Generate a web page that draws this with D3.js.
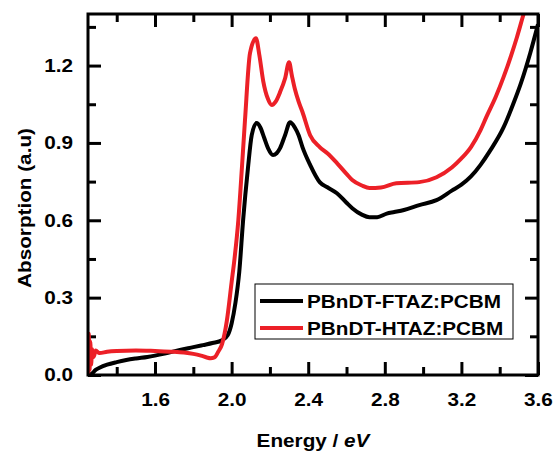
<!DOCTYPE html>
<html>
<head>
<meta charset="utf-8">
<script src="https://cdn.jsdelivr.net/npm/d3@7"></script>
<style>
  body { margin: 0; background: #fff; }
  text { font-family: "Liberation Sans", Arial, sans-serif; font-weight: bold; }
</style>
</head>
<body>
<script>
// PBnDT-FTAZ:PCBM (black)
var energyF = [1.255, 1.27, 1.29, 1.31, 1.35, 1.40, 1.45, 1.50, 1.56, 1.65, 1.73, 1.80, 1.85, 1.90, 1.95, 1.98, 2.00,
	2.02, 2.04, 2.06, 2.085, 2.105, 2.13, 2.15, 2.17, 2.19, 2.216, 2.235, 2.253, 2.279, 2.305, 2.33, 2.35,
	2.37, 2.41, 2.46, 2.50, 2.55, 2.60, 2.63, 2.68, 2.72, 2.76, 2.81, 2.85, 2.90, 2.98, 3.07, 3.15, 3.20,
	3.25, 3.30, 3.35, 3.42, 3.47, 3.51, 3.56, 3.60];
var absF = [0.0, 0.005, 0.02, 0.028, 0.04, 0.05, 0.058, 0.064, 0.07, 0.083, 0.097, 0.108, 0.116, 0.124, 0.135, 0.155, 0.20,
	0.28, 0.40, 0.60, 0.80, 0.93, 0.977, 0.96, 0.92, 0.88, 0.853, 0.86, 0.88, 0.93, 0.98, 0.96, 0.93,
	0.884, 0.815, 0.748, 0.728, 0.705, 0.668, 0.647, 0.622, 0.612, 0.612, 0.626, 0.632, 0.64, 0.659, 0.678, 0.715, 0.738,
	0.77, 0.815, 0.87, 0.96, 1.05, 1.13, 1.25, 1.36];

// PBnDT-HTAZ:PCBM (red)
var energyH = [1.251, 1.254, 1.258, 1.262, 1.266, 1.272, 1.28, 1.29, 1.31, 1.35, 1.40, 1.50, 1.60, 1.70, 1.75, 1.80,
	1.84, 1.87, 1.89, 1.91, 1.93, 1.95, 1.975, 2.00, 2.015, 2.035, 2.054, 2.07, 2.096, 2.127, 2.145, 2.165,
	2.19, 2.21, 2.23, 2.253, 2.279, 2.30, 2.315, 2.33, 2.35, 2.37, 2.41, 2.46, 2.50, 2.55, 2.60, 2.63, 2.68,
	2.72, 2.78, 2.86, 2.98, 3.07, 3.15, 3.20, 3.25, 3.30, 3.33, 3.38, 3.42, 3.46, 3.49, 3.525, 3.55];
var absH = [0.0, 0.16, 0.02, 0.13, 0.04, 0.10, 0.07, 0.095, 0.085, 0.09, 0.093, 0.095, 0.093, 0.09, 0.087, 0.082,
	0.075, 0.068, 0.065, 0.068, 0.09, 0.12, 0.21, 0.36, 0.45, 0.60, 0.806, 0.99, 1.248, 1.306, 1.24, 1.14,
	1.07, 1.047, 1.06, 1.097, 1.15, 1.213, 1.16, 1.11, 1.06, 1.02, 0.93, 0.884, 0.86, 0.822, 0.78, 0.756, 0.735,
	0.725, 0.727, 0.744, 0.748, 0.767, 0.805, 0.84, 0.884, 0.95, 1.0, 1.08, 1.155, 1.24, 1.31, 1.40, 1.46];

var xMajor = [1.6, 2.0, 2.4, 2.8, 3.2, 3.6];
var xMinor = [1.4, 1.8, 2.2, 2.6, 3.0, 3.4];
var yMajor = [0.0, 0.3, 0.6, 0.9, 1.2];
var yMinor = [0.15, 0.45, 0.75, 1.05, 1.35];

var seriesNames = ["PBnDT-FTAZ:PCBM", "PBnDT-HTAZ:PCBM"];
var seriesColors = ["#000000", "#ec2027"];

var margin = {top: 14, right: 16, bottom: 77, left: 88},
	width = 554 - margin.left - margin.right,
	height = 452 - margin.top - margin.bottom;

var x = d3.scaleLinear().domain([1.25, 3.6]).range([0, width]);
var y = d3.scaleLinear().domain([0, 1.4]).range([height, 0]);

var svg = d3.select("body").append("svg")
	.attr("width", 554)
	.attr("height", 452);

var main = svg.append("g")
	.attr("transform", "translate(" + margin.left + "," + margin.top + ")");

main.append("clipPath").attr("id", "plot-clip")
	.append("rect").attr("width", width).attr("height", height);

var fmt = d3.format(".1f");

function styleAxis(g) {
	g.select(".domain").remove();
	g.selectAll(".tick line").attr("stroke", "#000").attr("stroke-width", 3);
	g.selectAll(".tick text").attr("fill", "#000").style("font-size", "18px");
}

// bottom
main.append("g").attr("transform", "translate(0," + height + ")")
	.call(d3.axisBottom(x).tickValues(xMajor).tickFormat(fmt).tickSizeInner(-13).tickSizeOuter(0).tickPadding(18))
	.call(styleAxis);
main.append("g").attr("transform", "translate(0," + height + ")")
	.call(d3.axisBottom(x).tickValues(xMinor).tickFormat("").tickSizeInner(-8).tickSizeOuter(0))
	.call(styleAxis);
// top
main.append("g")
	.call(d3.axisTop(x).tickValues(xMajor).tickFormat("").tickSizeInner(-13).tickSizeOuter(0))
	.call(styleAxis);
main.append("g")
	.call(d3.axisTop(x).tickValues(xMinor).tickFormat("").tickSizeInner(-8).tickSizeOuter(0))
	.call(styleAxis);
// left
main.append("g")
	.call(d3.axisLeft(y).tickValues(yMajor).tickFormat(fmt).tickSizeInner(-13).tickSizeOuter(0).tickPadding(15))
	.call(styleAxis);
main.append("g")
	.call(d3.axisLeft(y).tickValues(yMinor).tickFormat("").tickSizeInner(-8).tickSizeOuter(0))
	.call(styleAxis);
// right
main.append("g").attr("transform", "translate(" + width + ",0)")
	.call(d3.axisRight(y).tickValues(yMajor).tickFormat("").tickSizeInner(-13).tickSizeOuter(0))
	.call(styleAxis);
main.append("g").attr("transform", "translate(" + width + ",0)")
	.call(d3.axisRight(y).tickValues(yMinor).tickFormat("").tickSizeInner(-8).tickSizeOuter(0))
	.call(styleAxis);

// curves
var line = d3.line()
	.x(function(d) { return x(d[0]); })
	.y(function(d) { return y(d[1]); })
	.curve(d3.curveMonotoneX);

var series = [d3.zip(energyF, absF), d3.zip(energyH, absH)];

main.append("g").attr("clip-path", "url(#plot-clip)")
	.selectAll("path")
	.data(series)
	.enter().append("path")
		.attr("d", line)
		.attr("fill", "none")
		.attr("stroke", function(d, i) { return seriesColors[i]; })
		.attr("stroke-width", 4)
		.attr("stroke-linejoin", "round");

// frame
main.append("rect")
	.attr("width", width)
	.attr("height", height)
	.attr("fill", "none")
	.attr("stroke", "#000")
	.attr("stroke-width", 3);

// legend
var legend = svg.append("g").attr("transform", "translate(255,284)");
legend.append("rect")
	.attr("width", 258).attr("height", 55)
	.attr("fill", "#fff").attr("stroke", "#000").attr("stroke-width", 1);

var item = legend.selectAll("g.item")
	.data(seriesNames)
	.enter().append("g")
		.attr("class", "item")
		.attr("transform", function(d, i) { return "translate(0," + (17 + i * 27) + ")"; });
item.append("line")
	.attr("x1", 5).attr("x2", 48)
	.attr("stroke", function(d, i) { return seriesColors[i]; })
	.attr("stroke-width", 4);
item.append("text")
	.attr("x", 52).attr("y", 6.5)
	.style("font-size", "18px")
	.text(function(d) { return d; });

// axis titles
var xt = svg.append("text")
	.attr("text-anchor", "middle")
	.attr("x", margin.left + width / 2)
	.attr("y", 447)
	.style("font-size", "18px");
xt.append("tspan").text("Energy / ");
xt.append("tspan").style("font-style", "italic").text("eV");

svg.append("text")
	.attr("text-anchor", "middle")
	.attr("transform", "translate(31,208)rotate(-90)")
	.style("font-size", "18px")
	.text("Absorption (a.u)");

// the original lettering is a bit wider than Arial
svg.selectAll("text").each(function() {
	var len = this.getComputedTextLength();
	if (len > 0) d3.select(this).attr("textLength", len * 1.15).attr("lengthAdjust", "spacingAndGlyphs");
});
</script>
</body>
</html>
